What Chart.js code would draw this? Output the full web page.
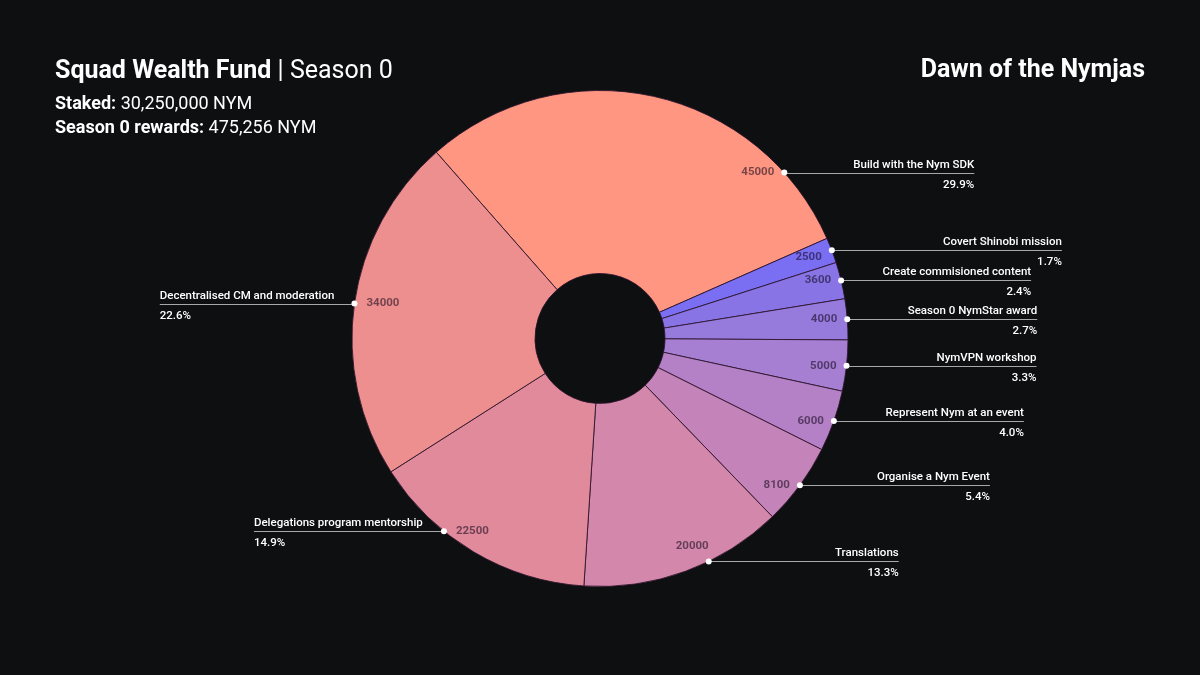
<!DOCTYPE html>
<html>
<head>
<meta charset="utf-8">
<script src="https://cdn.jsdelivr.net/npm/chart.js@4/dist/chart.umd.min.js"></script>
<style>
  html, body { margin: 0; padding: 0; background: #0e0f11; }
  #wrap { position: relative; width: 1200px; height: 675px; background: #0e0f11; overflow: hidden; font-family: Roboto, "Noto Sans", sans-serif; color: #ffffff; }
  canvas { position: absolute; left: 0; top: 0; }
  .t { position: absolute; white-space: nowrap; line-height: 1; }
  .b { font-weight: 700; }
  .r { font-weight: 400; }
</style>
</head>
<body>
<div id="wrap">
  <canvas id="c" width="1200" height="675"></canvas>
  <div class="t" id="title" style="left:55px; top:57px; font-size:25px;"><span class="b">Squad Wealth Fund</span><span class="r"> | Season 0</span></div>
  <div class="t" style="left:55px; top:94px; font-size:18px;"><span class="b">Staked:</span><span class="r"> 30,250,000 NYM</span></div>
  <div class="t" style="left:55px; top:118px; font-size:18px;"><span class="b">Season 0 rewards:</span><span class="r"> 475,256 NYM</span></div>
  <div class="t b" style="right:55px; top:56px; font-size:25px;">Dawn of the Nymjas</div>
</div>
<script>
// ---- data (clockwise order as drawn) ----
const categories = [
  "Build with the Nym SDK",
  "Covert Shinobi mission",
  "Create commisioned content",
  "Season 0 NymStar award",
  "NymVPN workshop",
  "Represent Nym at an event",
  "Organise a Nym Event",
  "Translations",
  "Delegations program mentorship",
  "Decentralised CM and moderation"
];
const values = [45000, 2500, 3600, 4000, 5000, 6000, 8100, 20000, 22500, 34000];
const sliceColors = [
  "#FF9682", "#7A6EF2", "#8874E4", "#977BDC", "#A67ED2",
  "#B480C6", "#C484B9", "#D387AA", "#E08A9C", "#EE8F8F"
];

const total = values.reduce((a, b) => a + b, 0);

const calloutPlugin = {
  id: 'callouts',
  afterDatasetsDraw(chart) {
    const ctx = chart.ctx;
    const meta = chart.getDatasetMeta(0);
    const nameFont = '500 11.5px Roboto';
    const pctFont = '500 11.5px Roboto';
    const valFont = '700 11.5px Roboto';
    const D = Math.PI / 180;
    const items = meta.data.map((arc, i) => {
      const p = arc.getProps(['x', 'y', 'startAngle', 'endAngle', 'outerRadius'], true);
      const mid = (p.startAngle + p.endAngle) / 2;
      const right = Math.cos(mid) >= 0;
      let dev = Math.atan2(Math.sin(mid), Math.abs(Math.cos(mid)));
      const maxUp = 42 * D;
      const maxDown = (right ? 64 : 51) * D;
      dev = Math.max(-maxUp, Math.min(maxDown, dev));
      const ax = p.x + (right ? 1 : -1) * p.outerRadius * Math.cos(dev);
      const ay = p.y + p.outerRadius * Math.sin(dev);
      ctx.font = nameFont;
      const nameW = ctx.measureText(categories[i]).width;
      const pct = (values[i] / total * 100).toFixed(1) + '%';
      ctx.font = pctFont;
      const pctW = ctx.measureText(pct).width;
      const L = Math.max(190, nameW + 20);
      const endX = right ? ax + L : ax - L;
      return { i, right, dev, ax, ay, endX, nameW, pctW, pct, cx: p.x, cy: p.y, start: p.startAngle };
    });
    // resolve overlaps on each side: push the upper label outward
    [true, false].forEach(side => {
      const s = items.filter(it => it.right === side).sort((a, b) => a.ay - b.ay);
      for (let k = s.length - 2; k >= 0; k--) {
        const up = s[k], lo = s[k + 1];
        const pctBottom = up.ay + 17, nameTop = lo.ay - 15;
        if (nameTop < pctBottom) {
          if (side) {
            const need = lo.endX + 6 + up.pctW;
            if (up.endX < need) up.endX = need;
          } else {
            const need = lo.endX - 6 - up.pctW;
            if (up.endX > need) up.endX = need;
          }
        }
      }
    });
    ctx.save();
    items.forEach(it => {
      // leader line
      ctx.strokeStyle = '#a8a8a8';
      ctx.lineWidth = 1;
      ctx.beginPath();
      ctx.moveTo(it.ax, Math.round(it.ay) + 0.5);
      ctx.lineTo(it.endX, Math.round(it.ay) + 0.5);
      ctx.stroke();
      // dot
      ctx.fillStyle = '#ffffff';
      ctx.beginPath();
      ctx.arc(it.ax, it.ay, 3, 0, Math.PI * 2);
      ctx.fill();
      // name & percent
      ctx.textAlign = it.right ? 'right' : 'left';
      ctx.textBaseline = 'alphabetic';
      ctx.fillStyle = '#ffffff';
      ctx.font = nameFont;
      ctx.fillText(categories[it.i], it.endX, it.ay - 5);
      ctx.font = pctFont;
      ctx.fillText(it.pct, it.endX, it.ay + 15);
      // value inside slice
      ctx.font = valFont;
      ctx.fillStyle = 'rgba(10,0,20,0.55)';
      ctx.textBaseline = 'middle';
      const txt = String(values[it.i]);
      const w = ctx.measureText(txt).width;
      if (Math.abs(it.dev) > 60 * D) {
        ctx.textAlign = it.right ? 'right' : 'left';
        ctx.fillText(txt, it.ax, it.ay - 15);
      } else if (it.right) {
        const rx = it.ax - 10;
        let ty = it.ay;
        // keep the number inside its slice (below the upper edge)
        const a0 = Math.atan2(Math.sin(it.start), Math.cos(it.start));
        if (a0 > -Math.PI / 2 && a0 < Math.PI / 2) {
          const lx = rx - w;
          const yUp = it.cy + (lx - it.cx) * Math.tan(a0);
          if (ty - 5 < yUp) ty = yUp + 5;
        }
        ctx.textAlign = 'right';
        ctx.fillText(txt, rx, ty);
      } else {
        ctx.textAlign = 'left';
        ctx.fillText(txt, it.ax + 12, it.ay);
      }
    });
    ctx.restore();
  }
};

new Chart(document.getElementById('c'), {
  type: 'doughnut',
  data: {
    labels: categories,
    datasets: [{
      data: values,
      backgroundColor: sliceColors,
      borderColor: 'rgba(45,20,45,0.85)',
      borderWidth: 1,
      hoverOffset: 0
    }]
  },
  options: {
    responsive: false,
    animation: false,
    events: [],
    rotation: -41.3,
    cutout: '26.2%',
    layout: { padding: { top: 90, bottom: 88, left: 300, right: 300 } },
    plugins: {
      legend: { display: false },
      tooltip: { enabled: false },
      title: { display: false }
    }
  },
  plugins: [calloutPlugin]
});
</script>
</body>
</html>
